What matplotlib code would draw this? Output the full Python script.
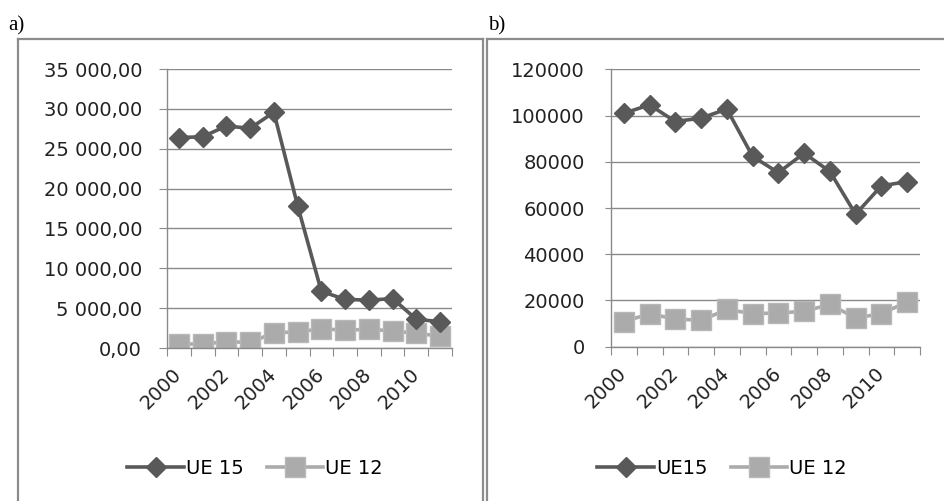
"""Two panels: UE15 vs UE12 series, 2000-2011."""

import matplotlib.pyplot as plt
from matplotlib.lines import Line2D
from matplotlib.ticker import FuncFormatter
import numpy as np

years = list(range(2000, 2012))
year_labels = [str(y) for y in years[::2]]

ue15_a = [26400, 26500, 27850, 27560, 29570, 17850, 7100, 6100, 6000, 6200, 3600, 3300]
ue12_a = [500, 500, 790, 700, 1900, 2030, 2400, 2250, 2330, 2160, 1830, 1500]

ue15_b = [101000, 104600, 97400, 98900, 102800, 82300, 75300, 83700, 75800, 57300, 69600, 71400]
ue12_b = [10900, 14200, 12000, 11400, 16100, 14300, 14600, 15300, 18300, 12400, 14300, 19300]

DARK = "#595959"
LIGHT = "#ababab"
GRID = "#8a8a8a"
FRAME = "#8c8c8c"
FS = 14

W, H = 944, 501


def px_rect(left, top, right, bottom):
    return [left / W, (H - bottom) / H, (right - left) / W, (bottom - top) / H]


def draw_panel(ax, s15, s12, ymax, step, fmt, names, ytick_len, ypad):
    x = np.arange(len(years))
    ax.plot(x, s15, color=DARK, lw=2.6, marker="D", ms=10.5, mec=DARK, zorder=3,
            label=names[0])
    ax.plot(x, s12, color=LIGHT, lw=2.6, marker="s", ms=14, mec="#b8b8b8", zorder=2,
            label=names[1])
    ax.set_xlim(-0.5, len(years) - 0.5)
    ax.set_ylim(0, ymax)
    ax.set_yticks(np.arange(0, ymax + 1, step))
    ax.yaxis.set_major_formatter(FuncFormatter(fmt))
    ax.grid(axis="y", color=GRID, lw=1)
    ax.set_axisbelow(True)
    for s in ("top", "right"):
        ax.spines[s].set_visible(False)
    for s in ("left", "bottom"):
        ax.spines[s].set_color(GRID)
        ax.spines[s].set_linewidth(1)
    # tick marks on category boundaries, labels on every other category
    ax.set_xticks(np.arange(-0.5, len(years)))
    ax.set_xticklabels([])
    ax.set_xticks(x[::2], minor=True)
    ax.set_xticklabels(year_labels, minor=True, rotation=45, ha="right",
                       va="center", rotation_mode="anchor", fontsize=FS,
                       color="#222222")
    ax.tick_params(axis="x", which="major", length=6, color=GRID, direction="out")
    ax.tick_params(axis="x", which="minor", length=0, pad=17)
    ax.tick_params(axis="y", length=ytick_len, color=GRID, labelsize=FS, pad=ypad,
                   labelcolor="#222222")


def fmt_a(v, _):
    return f"{v:,.2f}".replace(",", " ").replace(".", ",")


def fmt_b(v, _):
    return f"{v:.0f}"


def main() -> None:
    fig = plt.figure(figsize=(W / 100, H / 100), dpi=100)

    ax_a = fig.add_axes(px_rect(167, 69, 452, 348))
    draw_panel(ax_a, ue15_a, ue12_a, 35000, 5000, fmt_a, ("UE 15", "UE 12"), 6, 12)
    ax_b = fig.add_axes(px_rect(611, 69.3, 920, 346.7))
    draw_panel(ax_b, ue15_b, ue12_b, 120000, 20000, fmt_b, ("UE15", "UE 12"), 4, 15)

    for ax, cx in ((ax_a, 255), (ax_b, 722)):
        h, l = ax.get_legend_handles_labels()
        fig.legend(h, l, loc="center", bbox_to_anchor=(cx / W, (H - 468) / H),
                   ncols=2, frameon=False, handlelength=2.9, handletextpad=0.1,
                   columnspacing=1.2, prop={"size": FS})

    # outer frames of the two panels
    frame = dict(color=FRAME, lw=1.6, transform=fig.transFigure)
    fig.add_artist(Line2D([18 / W, 18 / W], [0, (H - 39) / H], **frame))
    fig.add_artist(Line2D([18 / W, 483 / W], [(H - 39) / H] * 2, **frame))
    fig.add_artist(Line2D([483 / W, 483 / W], [0, (H - 39) / H], **frame))
    fig.add_artist(Line2D([487 / W, 487 / W], [0, (H - 39) / H], **frame))
    fig.add_artist(Line2D([487 / W, 1], [(H - 39) / H] * 2, **frame))

    fig.text(8 / W, 1 - 16 / H, "a)", family="Liberation Serif", fontsize=15, va="top")
    fig.text(488 / W, 1 - 16 / H, "b)", family="Liberation Serif", fontsize=15, va="top")

    fig.savefig("out.png", dpi=100)


if __name__ == "__main__":
    main()
